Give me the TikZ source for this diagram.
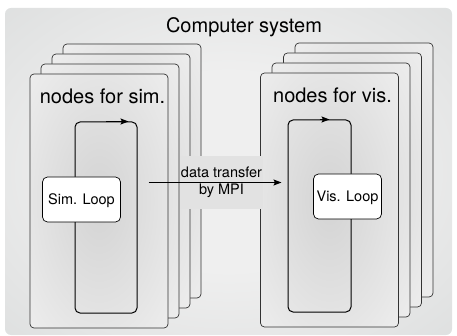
\documentclass[tikz,border=0pt]{standalone}
\usepackage{fontspec}
\setmainfont{TeX Gyre Heros}
\usetikzlibrary{arrows.meta,calc}

\definecolor{bgin}{HTML}{EFEFEF}
\definecolor{bgout}{HTML}{C3C7C7}
\definecolor{cardin}{HTML}{D3D3D3}
\definecolor{cardout}{HTML}{FBFBFB}
\definecolor{cardedge}{HTML}{333333}
\definecolor{mpifill}{HTML}{E2E2E2}

\pgfdeclareradialshading{bgglow}{\pgfpoint{0bp}{0bp}}{color(0bp)=(bgin); color(15bp)=(bgin); color(70bp)=(bgout); color(75bp)=(bgout)}
\pgfdeclareradialshading{cardglow}{\pgfpoint{0bp}{0bp}}{color(0bp)=(cardin); color(55bp)=(cardout); color(75bp)=(cardout)}

\begin{document}
\begin{tikzpicture}[x=1pt,y=1pt,
    card/.style={draw=cardedge, line width=0.7pt, rounded corners=4pt, shade, shading=cardglow,
      minimum width=138pt, minimum height=254pt, inner sep=0pt},
    cardtitle/.style={anchor=base, inner sep=0pt, font=\fontsize{20}{24}\selectfont},
    looprect/.style={draw, line width=1pt, rounded corners=5pt, inner sep=0pt},
    loopname/.style={draw, line width=0.7pt, rounded corners=5pt, fill=white, minimum height=45pt,
      inner sep=0pt, text depth=0pt, font=\fontsize{14.5}{17}\selectfont},
    mpibox/.style={fill=mpifill, minimum width=83pt, minimum height=53pt, inner sep=0pt,
      align=center, font=\fontsize{14.5}{17}\selectfont},
    flow/.style={line width=1pt, -{Stealth[length=8pt,width=6pt,inset=1.5pt]}}]
  \useasboundingbox (0,0) rectangle (457,-336);

  % whole machine
  \path[shade, shading=bgglow, rounded corners=6pt] (5,-8) rectangle (452,-335);
  \node[cardtitle] (system) at (244,-32.5) {Computer system};

  % stacks of compute nodes
  \foreach \i in {3,2,1}
    \node[card] (simcard\i) at (99+11*\i,-201+10*\i) {};
  \node[card] (simcard0) at (99,-201) {};
  \foreach \i in {3,2,1}
    \node[card] (viscard\i) at (329.5+11.5*\i,-200+10*\i) {};
  \node[card] (viscard0) at (329.5,-200) {};

  \node[cardtitle] (simtitle) at ([xshift=3.5pt,yshift=-29.5pt]simcard0.north) {nodes for sim.};
  \node[cardtitle] (vistitle) at ([xshift=3pt,yshift=-29.5pt]viscard0.north) {nodes for vis.};

  % the two loops
  \node[looprect, minimum width=62pt, minimum height=191pt] (simloop) at (106,-217.5) {};
  \node[looprect, minimum width=63pt, minimum height=192pt] (visloop) at (319.5,-216) {};
  \draw[flow] (simloop.north) -- ([xshift=-9pt]simloop.north east);
  \draw[flow] (visloop.north) -- ([xshift=-22pt]visloop.north east);

  \node[loopname, minimum width=78pt] (simname) at ([xshift=7pt,yshift=18pt]simloop.west) {Sim. Loop};
  \node[loopname, minimum width=68pt] (visname) at ([xshift=-4pt,yshift=19.5pt]visloop.east) {Vis. Loop};

  % transfer between them
  \node[mpibox] (mpi) at (221.5,-182.5) {data transfer\\by MPI};
  \draw[flow] ([xshift=11pt]simloop.east |- mpi) -- ([xshift=-6pt]visloop.west |- mpi);
\end{tikzpicture}
\end{document}
